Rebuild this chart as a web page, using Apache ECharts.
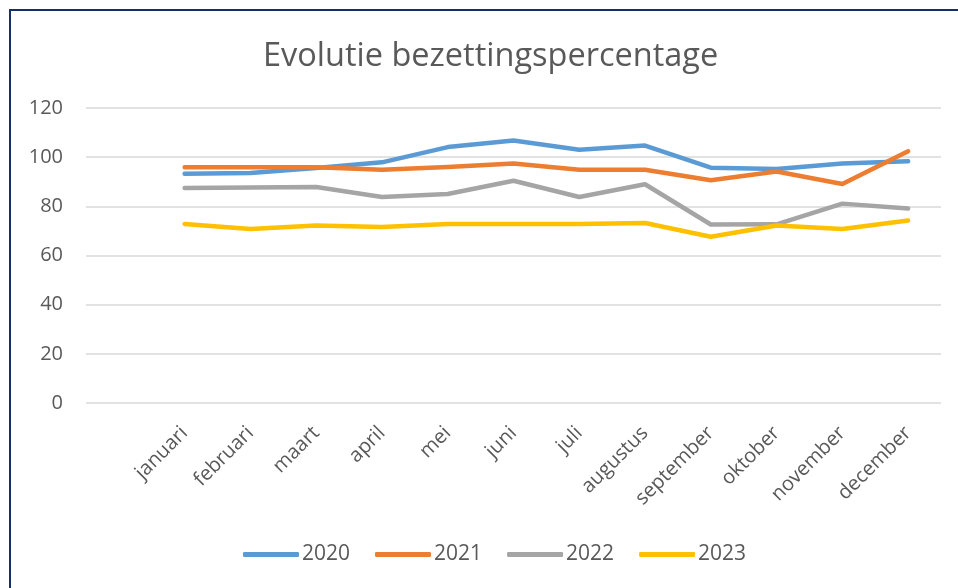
<!DOCTYPE html>
<html>
<head>
<meta charset="utf-8">
<script src="https://cdn.jsdelivr.net/npm/echarts@6/dist/echarts.min.js"></script>
<style>
  body { margin: 0; background: #fff; overflow: hidden; }
  #frame { position: absolute; left: 9px; top: 9px; width: 1100px; height: 700px; border: 2px solid #132f6c; }
  #chart { position: absolute; left: 0; top: 0; width: 958px; height: 588px; }
</style>
</head>
<body>
<div id="frame"></div>
<div id="chart"></div>
<script>
// maanden (eerste categorie is leeg in het origineel)
const months = ['januari', 'februari', 'maart', 'april', 'mei', 'juni', 'juli', 'augustus', 'september', 'oktober', 'november', 'december']
const years = ['2020', '2021', '2022', '2023']
const colors = ['#5B9BD5', '#ED7D31', '#A5A5A5', '#FFC000']

const v2020 = [93.3, 93.6, 95.6, 97.9, 104.1, 106.8, 103.0, 104.7, 95.7, 95.2, 97.4, 98.3]
const v2021 = [95.9, 95.9, 95.9, 94.9, 96.0, 97.4, 94.9, 94.9, 90.6, 94.2, 89.1, 102.4]
const v2022 = [87.5, 87.7, 87.9, 83.8, 85.0, 90.4, 83.8, 89.0, 72.6, 72.7, 81.1, 79.1]
const v2023 = [72.8, 70.8, 72.2, 71.6, 72.8, 72.8, 72.8, 73.2, 67.6, 72.2, 70.8, 74.2]

const yTicks = [0, 20, 40, 60, 80, 100, 120]

const values = [v2020, v2021, v2022, v2023]
const textColor = '#595959'
const font = '"Open Sans", sans-serif'

const option = {
  animation: false,
  title: {
    text: 'Evolutie bezettingspercentage',
    left: 258,
    top: 35,
    textStyle: { color: textColor, fontSize: 32.5, fontWeight: 'normal', fontFamily: font }
  },
  legend: {
    data: years,
    bottom: 18,
    left: 238,
    icon: 'roundRect',
    itemWidth: 56,
    itemHeight: 5,
    itemGap: 25,
    textStyle: { color: textColor, fontSize: 21, fontFamily: font, padding: [0, 0, 0, -2] }
  },
  grid: { left: 86, right: 17, top: 108, bottom: 185, containLabel: false },
  xAxis: {
    type: 'category',
    data: [''].concat(months),
    boundaryGap: true,
    axisLine: { show: false },
    axisTick: { show: false },
    axisLabel: { rotate: 45, interval: 0, margin: 27, color: textColor, fontSize: 20, fontFamily: font }
  },
  yAxis: {
    type: 'value',
    min: yTicks[0],
    max: yTicks[yTicks.length - 1],
    interval: 20,
    axisLine: { show: false },
    axisTick: { show: false },
    axisLabel: { margin: 23, color: textColor, fontSize: 20, fontFamily: font },
    splitLine: { lineStyle: { color: '#D9D9D9', width: 1.5 } }
  },
  series: years.map((y, i) => ({
    name: y,
    type: 'line',
    data: [null].concat(values[i]),
    showSymbol: false,
    symbol: 'none',
    color: colors[i],
    lineStyle: { width: 4.5, color: colors[i], cap: 'round', join: 'round' }
  }))
}

const chart = echarts.init(document.getElementById('chart'), null, { renderer: 'canvas' })
chart.setOption(option)
</script>
</body>
</html>
